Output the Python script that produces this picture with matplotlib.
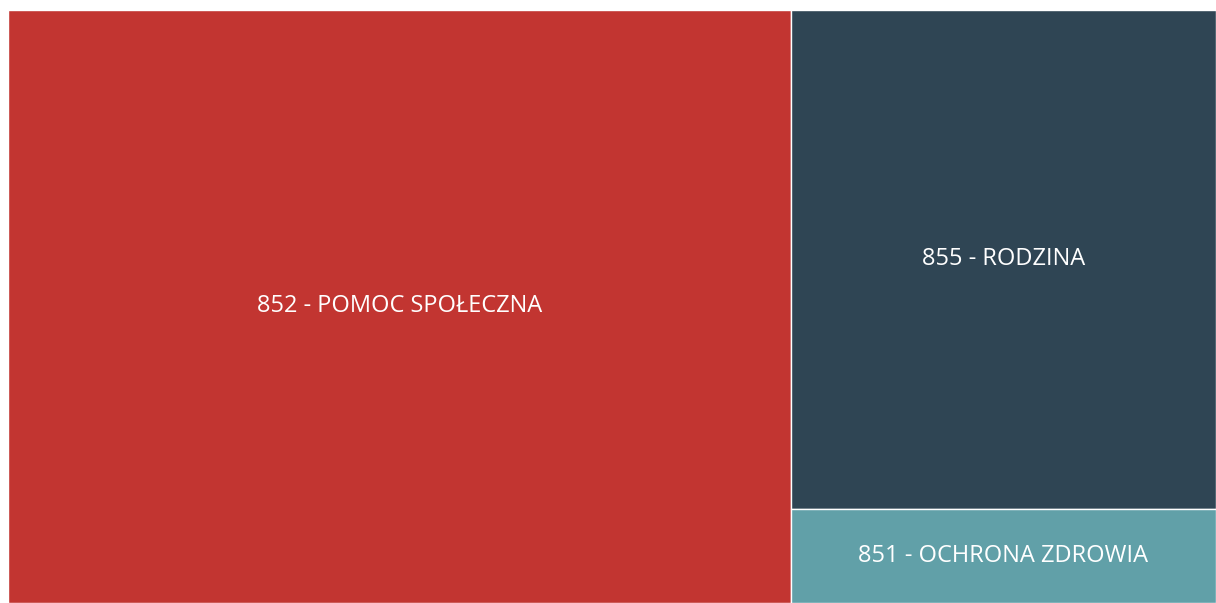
import matplotlib.pyplot as plt
from matplotlib.patches import Rectangle

# Treemap of budget sections
labels = ['852 - POMOC SPOŁECZNA', '855 - RODZINA', '851 - OCHRONA ZDROWIA']
values = [463.7, 212.1, 40.0]
colors = ['#c23531', '#2f4554', '#61a0a8']

fig = plt.figure(figsize=(12.16, 6.03), dpi=100)
ax = fig.add_axes([8 / 1216, 0, 1208 / 1216, 593 / 603])
ax.set_xlim(0, 1)
ax.set_ylim(0, 1)
ax.axis('off')

total = sum(values)

# first section takes a full-height column, the rest stack in the remaining column
w0 = values[0] / total
rects = [(0, 0, w0, 1)]
rest = sum(values[1:])
top = 1.0
for v in values[1:]:
    h = v / rest
    rects.append((w0, top - h, 1 - w0, h))
    top -= h

for (x, y, w, h), lab, c in zip(rects, labels, colors):
    ax.add_patch(Rectangle((x, y), w, h, facecolor=c, edgecolor='white', linewidth=1))
    ax.text(x + w / 2, y + h / 2, lab, color='white', ha='center', va='center',
            fontsize=17, family=['Open Sans', 'DejaVu Sans'])

fig.savefig('out.png', dpi=100)
